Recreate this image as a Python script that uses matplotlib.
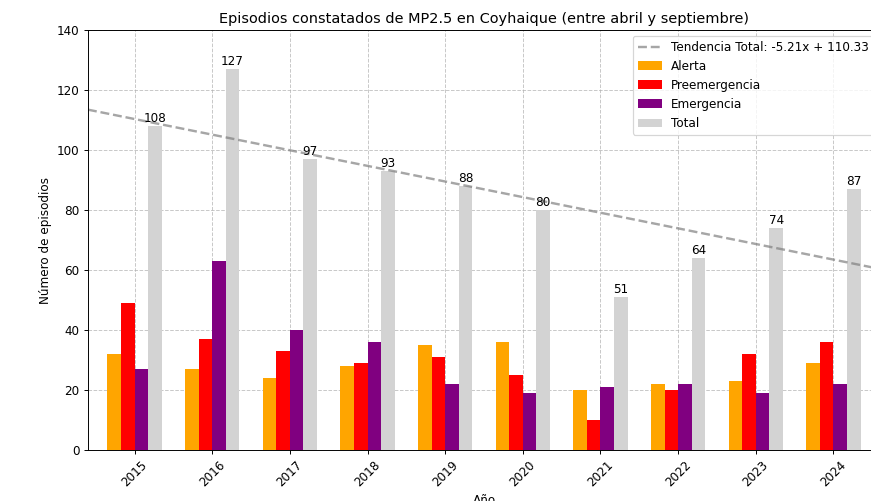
import numpy as np
import matplotlib
matplotlib.use("Agg")
import matplotlib.pyplot as plt

years = [2015, 2016, 2017, 2018, 2019, 2020, 2021, 2022, 2023, 2024]
alerta = [32, 27, 24, 28, 35, 36, 20, 22, 23, 29]
preemergencia = [49, 37, 33, 29, 31, 25, 10, 20, 32, 36]
emergencia = [27, 63, 40, 36, 22, 19, 21, 22, 19, 22]
total = [108, 127, 97, 93, 88, 80, 51, 64, 74, 87]

DPI = 86.7
fig = plt.figure(figsize=(871 / DPI, 501 / DPI), dpi=DPI)
ax = fig.add_axes([0.101, 0.1018, 0.9093, 0.8383])

x = np.arange(len(years))
w = 0.175
ax.bar(x - 1.5 * w, alerta, w, color='orange', label='Alerta')
ax.bar(x - 0.5 * w, preemergencia, w, color='red', label='Preemergencia')
ax.bar(x + 0.5 * w, emergencia, w, color='purple', label='Emergencia')
bt = ax.bar(x + 1.5 * w, total, w, color='lightgray', label='Total')
for rect, v in zip(bt, total):
    ax.text(rect.get_x() + rect.get_width() / 2, v + 0.5, f"{v}",
            ha='center', va='bottom', fontsize=10)

xlim = (-0.6, 9.6)
m, b = np.polyfit(x, total, 1)
xt = np.array(xlim)
ax.plot(xt, m * xt + b, linestyle='--', color='gray', alpha=0.7, linewidth=2,
        label=f'Tendencia Total: {m:.2f}x + {b:.2f}')
ax.set_xlim(*xlim)
ax.set_ylim(0, 140)
ax.set_xticks(x)
ax.set_xticklabels([str(y) for y in years], rotation=45)
ax.grid(True, linestyle='--', alpha=0.7)
ax.set_axisbelow(True)
ax.set_title('Episodios constatados de MP2.5 en Coyhaique (entre abril y septiembre)', fontsize=12)
ax.set_xlabel('Año')
ax.set_ylabel('Número de episodios')
ax.legend(loc='upper right')

fig.savefig('out.png', dpi=DPI)
